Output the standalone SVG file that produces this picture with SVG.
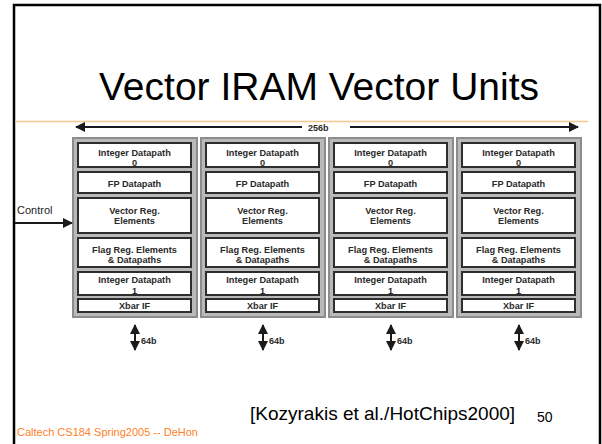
<svg xmlns="http://www.w3.org/2000/svg" width="602" height="444" viewBox="0 0 602 444">
<style>
.frame{fill:none;stroke:#000;stroke-width:2.5}
.title{font-family:"Liberation Sans",Arial,sans-serif;font-size:39px;fill:#000;text-anchor:middle}
.unit{fill:#b9b9b9;stroke:#8c8c8c;stroke-width:2}
.box{fill:#fff;stroke:#2e2e2e;stroke-width:2}
.bt{font-family:"Liberation Sans",Arial,sans-serif;font-weight:bold;font-size:9.2px;fill:#2a2a2a;text-anchor:middle}
.lbl{font-family:"Liberation Sans",Arial,sans-serif;font-weight:bold;font-size:9px;fill:#2a2a2a}
.wire{stroke:#1a1a1a;stroke-width:2;fill:none}
.ctl{font-family:"Liberation Sans",Arial,sans-serif;font-size:11px;fill:#222}
.foot{font-family:"Liberation Sans",Arial,sans-serif;font-size:11px;fill:#ff7f27}
.cite{font-family:"Liberation Sans",Arial,sans-serif;font-size:19px;fill:#000}
.num{font-family:"Liberation Sans",Arial,sans-serif;font-size:14px;fill:#000}
</style>
<defs>
<marker id="ah" viewBox="0 0 10 10" refX="9" refY="5" markerWidth="5" markerHeight="5" orient="auto-start-reverse" markerUnits="strokeWidth">
<path d="M0,0 L10,5 L0,10 z" fill="#1a1a1a"/>
</marker>
<g id="unitT">
<rect class="unit" x="0" y="0" width="124" height="179"/>
<g><rect class="box" x="5" y="5" width="113" height="24"/><text class="bt" x="61.5" y="18">Integer Datapath</text><text class="bt" x="61.5" y="28">0</text></g>
<g><rect class="box" x="5" y="34" width="113" height="21"/><text class="bt" x="61.5" y="49">FP Datapath</text></g>
<g><rect class="box" x="5" y="60" width="113" height="35"/><text class="bt" x="61.5" y="75.5">Vector Reg.</text><text class="bt" x="61.5" y="85.5">Elements</text></g>
<g><rect class="box" x="5" y="100" width="113" height="29"/><text class="bt" x="61.5" y="115">Flag Reg. Elements</text><text class="bt" x="61.5" y="125">&amp; Datapaths</text></g>
<g><rect class="box" x="5" y="134" width="113" height="23"/><text class="bt" x="61.5" y="145">Integer Datapath</text><text class="bt" x="61.5" y="156">1</text></g>
<g><rect class="box" x="5" y="161" width="113" height="13"/><text class="bt" x="61.5" y="171">Xbar IF</text></g>
</g>
</defs>
<rect width="602" height="444" fill="#fff"/>
<path class="frame" d="M14,444 V5 H600 V444"/>
<text class="title" x="319" y="100">Vector IRAM Vector Units</text>
<line x1="15" y1="121.5" x2="588" y2="121.5" stroke="#f2c88e" stroke-width="1.5"/>

<g id="unit1"><use href="#unitT" x="73" y="138"/></g>
<g id="unit2"><use href="#unitT" x="201" y="138"/></g>
<g id="unit3"><use href="#unitT" x="329" y="138"/></g>
<g id="unit4"><use href="#unitT" x="457" y="138"/></g>

<g id="connectors">
<line class="wire" x1="302" y1="127" x2="76" y2="127" marker-end="url(#ah)"/>
<line class="wire" x1="350" y1="127" x2="578" y2="127" marker-end="url(#ah)"/>
<text class="lbl" x="308" y="130.5">256b</text>
<line class="wire" x1="15" y1="223" x2="72" y2="223" marker-end="url(#ah)"/>
<text class="ctl" x="17" y="214">Control</text>
<line class="wire" x1="135" y1="325" x2="135" y2="350" marker-start="url(#ah)" marker-end="url(#ah)"/>
<line class="wire" x1="263" y1="325" x2="263" y2="350" marker-start="url(#ah)" marker-end="url(#ah)"/>
<line class="wire" x1="391" y1="325" x2="391" y2="350" marker-start="url(#ah)" marker-end="url(#ah)"/>
<line class="wire" x1="519" y1="325" x2="519" y2="350" marker-start="url(#ah)" marker-end="url(#ah)"/>
<text class="lbl" x="141" y="344">64b</text>
<text class="lbl" x="269" y="344">64b</text>
<text class="lbl" x="397" y="344">64b</text>
<text class="lbl" x="525" y="344">64b</text>
</g>

<text class="cite" x="250" y="420">[Kozyrakis et al./HotChips2000]</text>
<text class="num" x="537" y="422">50</text>
<text class="foot" x="17" y="436">Caltech CS184 Spring2005 -- DeHon</text>
</svg>
